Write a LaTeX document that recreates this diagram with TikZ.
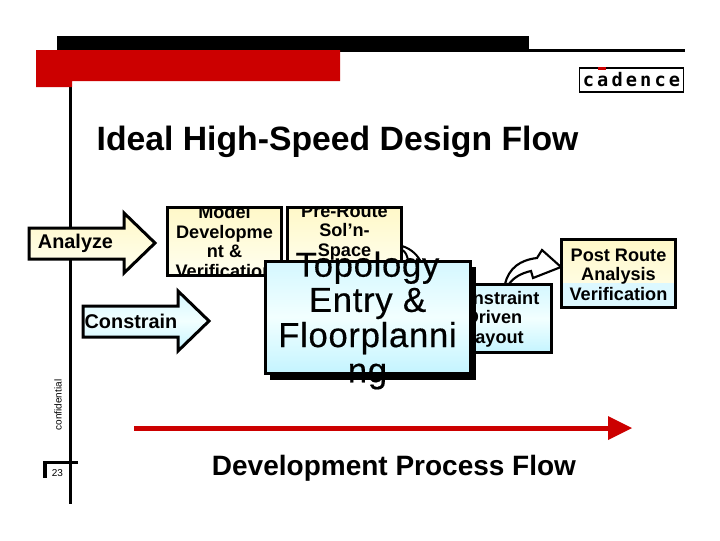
\documentclass[tikz,border=0pt]{standalone}
\usepackage{fontspec}
\setmainfont{Liberation Sans}
\newfontfamily\logofont{DejaVu Sans Mono}
\newfontfamily\heavyfont[FakeBold=0.4,LetterSpace=2]{Liberation Sans}
\definecolor{cdred}{HTML}{CC0000}
\definecolor{creamtop}{HTML}{FFF8C8}
\definecolor{creambot}{HTML}{FFFFF0}
\definecolor{cyantop}{HTML}{D4F7FF}
\definecolor{cyanmid}{HTML}{F2FFFF}
\definecolor{cyanbot}{HTML}{C4F4FF}
\tikzset{
  px/.style={x=0.75pt,y=-0.75pt},
  outl/.style={draw=black,line width=2.25pt,line join=miter},
  creamfill/.style={outl,top color=creamtop,bottom color=creambot},
  cyanfill/.style={outl,top color=cyantop,bottom color=cyanbot,middle color=cyanmid},
  smalllbl/.style={align=center,font=\fontsize{13.6pt}{14.6pt}\selectfont\bfseries,inner sep=0pt},
  arrowlbl/.style={font=\fontsize{14.9pt}{17pt}\selectfont\bfseries,inner sep=0pt},
  biglbl/.style={align=center,font=\heavyfont\fontsize{26pt}{26.4pt}\selectfont,inner sep=0pt},
}
\begin{document}
\begin{tikzpicture}[px]
\useasboundingbox (0,0) rectangle (720,540);
\fill[white] (0,0) rectangle (720,540);
% frame
\fill[black] (57,36) rectangle (529,52);
\fill[black] (529,49) rectangle (685,52);
\fill[black] (69,87) rectangle (72,504);
\fill[cdred] (36,50) -- (340,50) -- (340,81) -- (72,81) -- (72,87) -- (36,87) -- cycle;
% logo
\node[draw=black,line width=1.4pt,fill=white,minimum width=78pt,minimum height=18.5pt,inner sep=0pt,
  font=\logofont\bfseries\fontsize{14pt}{14pt}\selectfont] (logo) at (631.5,80) {c\,a\,d\,e\,n\,c\,e};
\fill[cdred] (598,66.5) rectangle (606,69.5);
% title
\node[inner sep=0pt,font=\fontsize{25.3pt}{28pt}\selectfont\bfseries,anchor=center] (title) at (337.5,142) {Ideal High-Speed Design Flow};
% page furniture
\draw[line width=2.5pt] (78,462.5) -- (45,462.5) -- (45,478);
\node[inner sep=0pt,font=\fontsize{7.5pt}{9pt}\selectfont] (page) at (57.5,473) {23};
\node[inner sep=0pt,rotate=90,font=\fontsize{7.5pt}{9pt}\selectfont] (conf) at (58,405) {confidential};
% arrows
\draw[creamfill] (29,228) -- (124,228) -- (124,213) -- (155,243) -- (124,273) -- (124,259) -- (29,259) -- cycle;
\node[arrowlbl] (analyze) at (75.5,243) {Analyze};
\draw[cyanfill] (83,306) -- (178,306) -- (178,291) -- (209,321) -- (178,351) -- (178,337) -- (83,337) -- cycle;
\node[arrowlbl] (constrain) at (131,321.5) {Constrain};
% model box
\draw[creamfill] (167.5,207) rectangle (281.5,275);
\begin{scope}
\clip (167.5,207) rectangle (281.5,275);
\node[smalllbl] (model) at (224.5,241.5) {Model\\Developme\\nt \&\\Verification};
\end{scope}
% pre-route box
\draw[creamfill] (287.5,207) rectangle (401.5,275);
\begin{scope}
\clip (287.5,207) rectangle (401.5,275);
\node[smalllbl] (preroute) at (344.5,232.5) {Pre-Route\\Sol’n-\\Space};
\end{scope}
\draw[line width=1.5pt,fill=white] (402,246) .. controls (412,249) and (418,256) .. (421,262) -- (408,262) .. controls (408,256) and (405,251) .. (402,250) -- cycle;
% constraint box
\draw[cyanfill] (437,284.5) rectangle (551,352.5);
\node[smalllbl] (constraint) at (494,319) {Constraint\\Driven\\Layout};
% post route box
\draw[creamfill] (561.5,239.5) rectangle (675.5,307);
\fill[cyanbot!60!white] (562.6,283) rectangle (674.4,306);
\draw[outl] (561.5,239.5) rectangle (675.5,307);
\node[smalllbl] (post) at (618.5,274.5) {Post Route\\Analysis\\Verification};
% curved arrow
\draw[line width=1.6pt,fill=white,line join=miter]
 (505,284) .. controls (509,268) and (520,260) .. (537,258)
 -- (542,250) -- (561,267) -- (533,278) -- (531,271) .. controls (522,273) and (514,277) .. (509,284) -- cycle;
% topology box
\fill[black] (270,267) rectangle (475.5,380);
\draw[cyanfill] (265.5,261) rectangle (470,373);
\node[biglbl] (topo) at (367.5,320.5) {Topology\\Entry \&\\Floorplanni\\ng};
% development arrow
\fill[cdred] (134,426) rectangle (609,430.5);
\fill[cdred] (608,416) -- (632,428) -- (608,440) -- cycle;
\node[inner sep=0pt,font=\fontsize{21pt}{24pt}\selectfont\bfseries] (dev) at (394,468) {Development Process Flow};
\end{tikzpicture}
\end{document}
